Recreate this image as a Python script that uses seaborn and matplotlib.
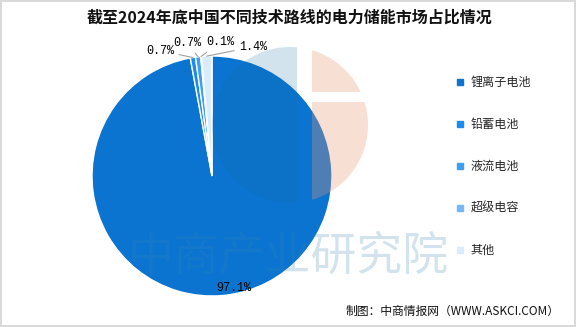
import matplotlib
matplotlib.use("Agg")
import matplotlib.pyplot as plt
from matplotlib.patches import Circle, Rectangle
from matplotlib.lines import Line2D
import numpy as np
import seaborn as sns

# ---- data ----
title = "截至2024年底中国不同技术路线的电力储能市场占比情况"
categories = ["锂离子电池", "铅蓄电池", "液流电池", "超级电容", "其他"]
shares = [97.1, 0.7, 0.7, 0.1, 1.4]
pct_labels = ["97.1%", "0.7%", "0.7%", "0.1%", "1.4%"]
source = "制图：中商情报网（WWW.ASKCI.COM）"
watermark = "中商产业研究院"

# ---- style ----
colors = ["#0b74d1", "#1a8cef", "#3d9ff2", "#72b9f5", "#d8ecfb"]
sns.set_theme(style="white")
plt.rcParams["font.family"] = ["Noto Sans CJK SC", "DejaVu Sans"]

W, H = 576, 327
fig = plt.figure(figsize=(W / 100, H / 100), dpi=100)
fig.patch.set_facecolor("white")
fig.patch.set_edgecolor("#d9d9d9")
fig.patch.set_linewidth(1.5)

# pie axes: center (212,176) px, radius 120 px
R = 120
cx, cy = 212, 176
lim = 1.2
side = 2 * lim * R
ax = fig.add_axes([(cx - side / 2) / W, (H - cy - side / 2) / H, side / W, side / H])
wedges, _ = ax.pie(shares, colors=colors, startangle=90, counterclock=False,
                   radius=1.0, wedgeprops=dict(edgecolor="white", linewidth=1.0))
ax.set_xlim(-lim, lim)
ax.set_ylim(-lim, lim)
ax.set_aspect("equal")
ax.axis("off")

pct_font = dict(family=["Liberation Mono", "DejaVu Sans Mono"], fontsize=8.5, color="black")

# main slice label inside
mid0 = np.deg2rad((wedges[0].theta1 + wedges[0].theta2) / 2 + 6)
ax.text(0.95 * np.cos(mid0), 0.95 * np.sin(mid0), pct_labels[0],
        ha="center", va="center", **pct_font)

# small slices with leader lines
label_pos = [None, (-0.43, 1.045), (-0.21, 1.11), (0.07, 1.115), (0.34, 1.075)]
for i in range(1, len(shares)):
    mid = np.deg2rad((wedges[i].theta1 + wedges[i].theta2) / 2)
    ax.annotate(pct_labels[i], xy=(np.cos(mid), np.sin(mid)), xytext=label_pos[i],
                ha="center", va="center", annotation_clip=False,
                arrowprops=dict(arrowstyle="-", color="#a0a0a0", lw=0.8,
                                shrinkA=1, shrinkB=0),
                **pct_font)

# title
fig.text(0.502, 1 - 18 / H, title, ha="center", va="center",
         fontsize=11.5, fontweight="bold", color="#111111")

# legend
handles = [Line2D([0], [0], marker="s", linestyle="none", markersize=5,
                  markerfacecolor=c, markeredgecolor=c) for c in colors]
fig.legend(handles, categories, loc="upper left", bbox_to_anchor=(456 / W, 1 - 76 / H),
           frameon=False, fontsize=8.7, handlelength=0.6, handletextpad=0.6,
           labelspacing=2.4, borderpad=0, borderaxespad=0)

# source
fig.text(560 / W, 1 - 311 / H, source, ha="right", va="center", fontsize=8.5, color="#111111")

# watermark overlay
ov = fig.add_axes([0, 0, 1, 1], zorder=5)
ov.set_xlim(0, W)
ov.set_ylim(H, 0)
ov.axis("off")
ov.patch.set_alpha(0)
lc, lr = (290, 125), 78
pink = (235 / 255, 152 / 255, 115 / 255)
blue = (11 / 255, 105 / 255, 161 / 255)
clips = [((200, 40, 97, 175), blue, 0.18),
         ((312, 40, 60, 52), pink, 0.3),
         ((312, 102, 60, 110), pink, 0.3)]
for (x0, y0, w, h), c, a in clips:
    circ = Circle(lc, lr, facecolor=c, edgecolor="none", alpha=a)
    ov.add_patch(circ)
    rect = Rectangle((x0, y0), w, h, transform=ov.transData)
    circ.set_clip_path(rect)
ov.text(288, 257, watermark, ha="center", va="center", fontsize=33,
        color=(50 / 255, 130 / 255, 180 / 255), alpha=0.22)

fig.savefig("out.png", dpi=100, facecolor=fig.get_facecolor(), edgecolor=fig.get_edgecolor())
